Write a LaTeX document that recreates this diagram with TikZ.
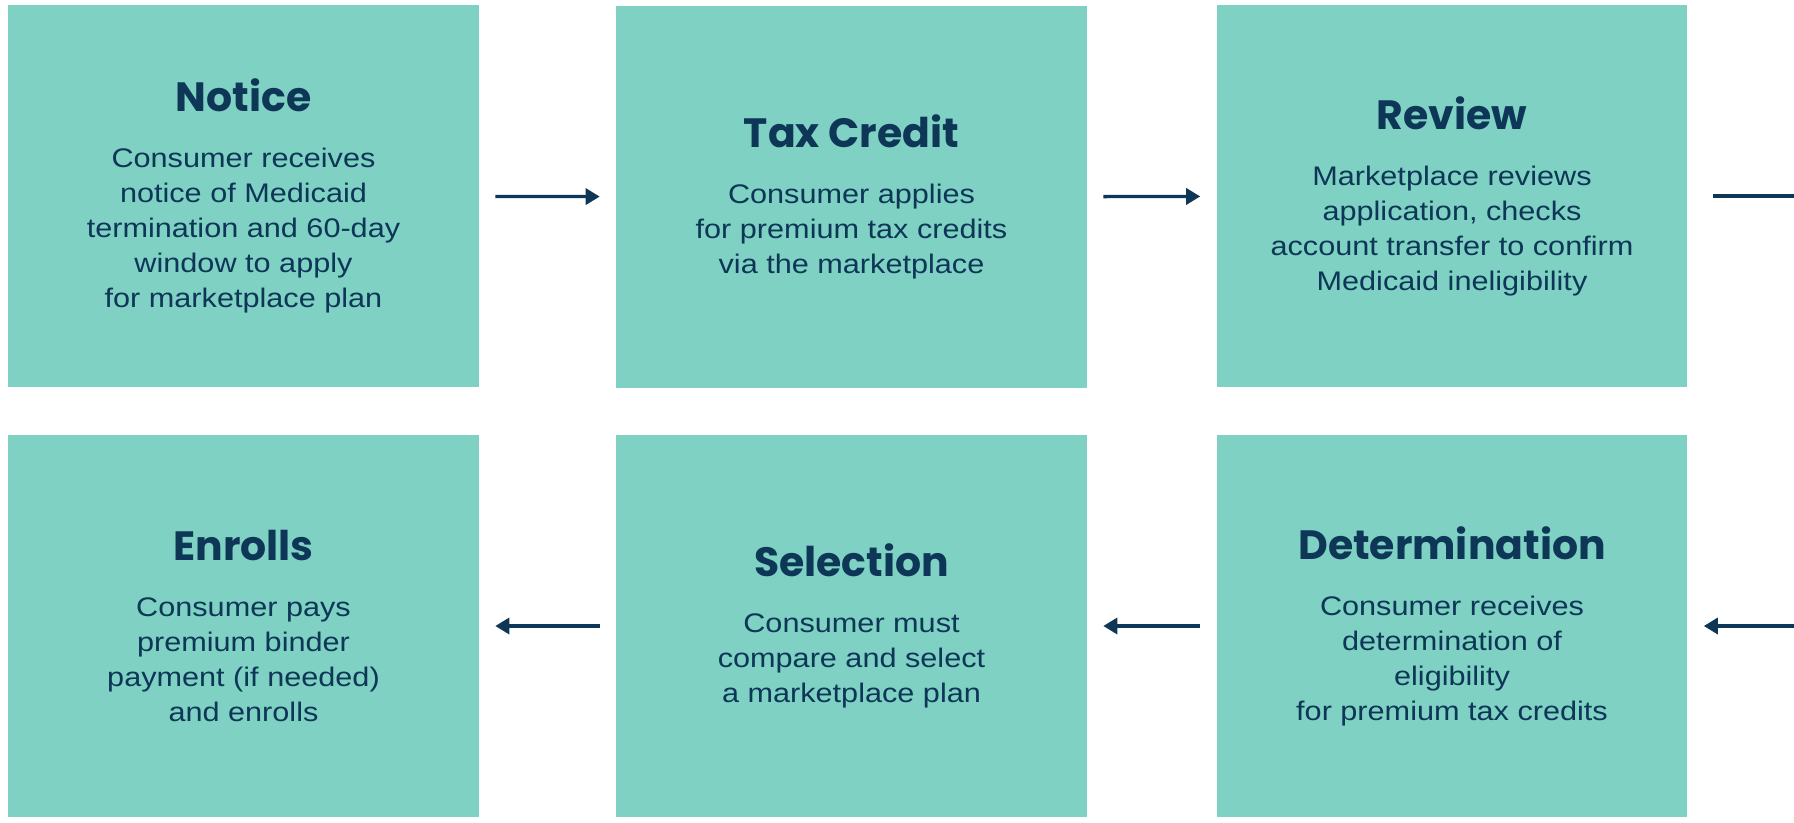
\documentclass[tikz,border=0pt]{standalone}
\usepackage{fontspec}
\setmainfont{Liberation Sans}[FakeStretch=1.14]
\newfontfamily\titlefont{Poppins}
\usetikzlibrary{arrows.meta}
\definecolor{mint}{HTML}{7FD1C3}
\definecolor{navy}{HTML}{0D3657}
\newcommand\cardtitle[1]{{\titlefont\bfseries\fontsize{23.3}{26}\selectfont #1}\\[12pt]}

\begin{document}
\begin{tikzpicture}[x=0.02cm, y=-0.02cm,
       card/.style = {fill=mint, minimum width=9.42cm, minimum height=7.64cm,
                      inner sep=0pt, align=center, text=navy,
                      font=\fontsize{15.3}{19.9}\selectfont},
every edge/.style = {draw=navy, line width=1.9pt,
                     -{Triangle[length=0.28cm, width=0.32cm]},
                     shorten <=0.32cm, shorten >=0.32cm}
                        ]
\useasboundingbox (0,0) rectangle (1794,822);
\node (notice) at (243.5,196) [card] {\cardtitle{Notice}Consumer receives\\ notice of Medicaid\\ termination and 60-day\\ window to apply\\ for marketplace plan};
\node (tax) at (851.5,197) [card] {\cardtitle{Tax Credit}Consumer applies\\ for premium tax credits\\ via the marketplace};
\node (review) at (1452,196) [card] {\cardtitle{Review}Marketplace reviews\\ application, checks\\ account transfer to confirm\\ Medicaid ineligibility};
\node (enrolls) at (243.5,626) [card] {\cardtitle{Enrolls}Consumer pays\\ premium binder\\ payment (if needed)\\ and enrolls};
\node (selection) at (851.5,626) [card] {\cardtitle{Selection}Consumer must\\ compare and select\\ a marketplace plan};
\node (determ) at (1452,626) [card] {\cardtitle{Determination}Consumer receives\\ determination of\\ eligibility\\ for premium tax credits};
\coordinate (out) at (1840,196);
\coordinate (in) at (1794,626);

%

\path   (notice) edge (tax)
        (tax) edge (review)
        (review) edge[shorten <=0.5cm, shorten >=0pt] (out)
        (in) edge[shorten <=0pt] (determ)
        (determ) edge (selection)
        (selection) edge (enrolls);
\end{tikzpicture}
\end{document}
